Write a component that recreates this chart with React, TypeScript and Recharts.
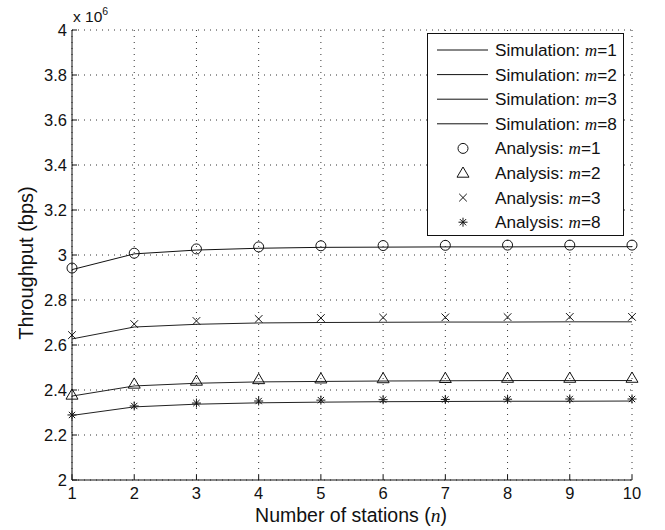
import { LineChart, Line, XAxis, YAxis, CartesianGrid, Label } from 'recharts';

const stations = [1, 2, 3, 4, 5, 6, 7, 8, 9, 10];

// throughput in units of 1e6 bps
const simM1 = [2.935, 3.005, 3.022, 3.030, 3.034, 3.035, 3.036, 3.036, 3.037, 3.037];
const simM2 = [2.373, 2.418, 2.430, 2.436, 2.438, 2.440, 2.441, 2.442, 2.442, 2.442];
const simM3 = [2.627, 2.680, 2.692, 2.698, 2.700, 2.701, 2.702, 2.702, 2.703, 2.703];
const simM8 = [2.287, 2.325, 2.337, 2.343, 2.346, 2.348, 2.349, 2.350, 2.350, 2.351];

const anaM1 = [2.942, 3.008, 3.027, 3.036, 3.041, 3.042, 3.043, 3.044, 3.044, 3.044];
const anaM2 = [2.378, 2.427, 2.440, 2.447, 2.450, 2.451, 2.452, 2.453, 2.453, 2.453];
const anaM3 = [2.644, 2.693, 2.707, 2.716, 2.720, 2.722, 2.723, 2.724, 2.725, 2.725];
const anaM8 = [2.289, 2.329, 2.342, 2.351, 2.355, 2.357, 2.358, 2.359, 2.360, 2.360];

const yTicks = [2, 2.2, 2.4, 2.6, 2.8, 3, 3.2, 3.4, 3.6, 3.8, 4];

const data = stations.map((n, i) => ({
  n,
  sim1: simM1[i],
  sim2: simM2[i],
  sim3: simM3[i],
  sim8: simM8[i],
  ana1: anaM1[i],
  ana2: anaM2[i],
  ana3: anaM3[i],
  ana8: anaM8[i],
}));

const FONT = '"Liberation Sans", Arial, Helvetica, sans-serif';
const SERIF = '"Liberation Serif", "DejaVu Serif", serif';
const INK = '#111';

type Kind = 'circle' | 'triangle' | 'cross' | 'star';

function Marker({ kind, cx, cy }: { kind: Kind; cx: number; cy: number }) {
  const p = { fill: 'none', stroke: INK, strokeWidth: 1 };
  if (kind === 'circle') return <circle cx={cx} cy={cy} r={5} {...p} />;
  if (kind === 'triangle') {
    const s = 6;
    return <path d={`M${cx},${cy - s} L${cx + s},${cy + s * 0.7} L${cx - s},${cy + s * 0.7} Z`} {...p} />;
  }
  if (kind === 'cross') {
    const s = 3.8;
    return <path d={`M${cx - s},${cy - s} L${cx + s},${cy + s} M${cx - s},${cy + s} L${cx + s},${cy - s}`} {...p} />;
  }
  const s = 4.5;
  const d = s * 0.7;
  return (
    <path
      d={`M${cx},${cy - s} L${cx},${cy + s} M${cx - s},${cy} L${cx + s},${cy} M${cx - d},${cy - d} L${cx + d},${cy + d} M${cx - d},${cy + d} L${cx + d},${cy - d}`}
      {...p}
    />
  );
}

const dotFor = (kind: Kind) => (props: any) => (
  <Marker key={`${kind}-${props.index}`} kind={kind} cx={props.cx} cy={props.cy} />
);

const legendRows: { label: string; m: string; kind: Kind | 'line' }[] = [
  { label: 'Simulation: ', m: '1', kind: 'line' },
  { label: 'Simulation: ', m: '2', kind: 'line' },
  { label: 'Simulation: ', m: '3', kind: 'line' },
  { label: 'Simulation: ', m: '8', kind: 'line' },
  { label: 'Analysis: ', m: '1', kind: 'circle' },
  { label: 'Analysis: ', m: '2', kind: 'triangle' },
  { label: 'Analysis: ', m: '3', kind: 'cross' },
  { label: 'Analysis: ', m: '8', kind: 'star' },
];

function LegendBox() {
  return (
    <svg width={198} height={204} style={{ display: 'block' }}>
      <rect x={0.5} y={0.5} width={196} height={202} fill="#fff" stroke={INK} strokeWidth={1} />
      {legendRows.map((r, i) => {
        const y = 17 + i * 24.6;
        return (
          <g key={i}>
            {r.kind === 'line' ? (
              <line x1={10} x2={61} y1={y} y2={y} stroke={INK} strokeWidth={1} />
            ) : (
              <Marker kind={r.kind} cx={36} cy={y} />
            )}
            <text x={68} y={y + 6} fontFamily={FONT} fontSize={17.2} fill={INK}>
              {r.label}
              <tspan fontFamily={SERIF} fontStyle="italic">m</tspan>
              {'=' + r.m}
            </text>
          </g>
        );
      })}
    </svg>
  );
}

export default function App() {
  return (
    <div style={{ position: 'fixed', left: 0, top: 0, width: 665, height: 530, background: '#fff' }}>
      <LineChart width={665} height={530} data={data} margin={{ top: 30, right: 33, bottom: 20, left: 32 }}>
        <CartesianGrid stroke="#333" strokeDasharray="1 5" />
        <XAxis
          dataKey="n"
          type="number"
          domain={[1, 10]}
          ticks={stations}
          height={30}
          tickSize={-5}
          tickMargin={12}
          axisLine={{ stroke: INK }}
          tickLine={{ stroke: INK }}
          tick={{ fill: INK, fontSize: 16.5, fontFamily: FONT }}
        >
          <Label
            content={() => (
              <text x={351} y={522} textAnchor="middle" fontFamily={FONT} fontSize={19.5} fill={INK}>
                Number of stations (<tspan fontFamily={SERIF} fontStyle="italic">n</tspan>)
              </text>
            )}
          />
        </XAxis>
        <XAxis
          xAxisId="top"
          orientation="top"
          dataKey="n"
          type="number"
          domain={[1, 10]}
          ticks={stations}
          height={0}
          tickSize={-5}
          tick={false}
          axisLine={{ stroke: INK }}
          tickLine={{ stroke: INK }}
        />
        <YAxis
          type="number"
          domain={[2, 4]}
          ticks={yTicks}
          width={40}
          tickSize={-5}
          tickMargin={10}
          tickFormatter={(v: number) => String(Math.round(v * 10) / 10)}
          axisLine={{ stroke: INK }}
          tickLine={{ stroke: INK }}
          tick={{ fill: INK, fontSize: 16.5, fontFamily: FONT }}
        >
          <Label
            content={() => (
              <text
                x={33}
                y={263}
                textAnchor="middle"
                transform="rotate(-90 33 263)"
                fontFamily={FONT}
                fontSize={20}
                fill={INK}
              >
                Throughput (bps)
              </text>
            )}
          />
        </YAxis>
        <YAxis
          yAxisId="right"
          orientation="right"
          type="number"
          domain={[2, 4]}
          ticks={yTicks}
          width={0}
          tickSize={-5}
          tick={false}
          axisLine={{ stroke: INK }}
          tickLine={{ stroke: INK }}
        />
        <Line dataKey="sim1" stroke={INK} strokeWidth={1} dot={false} isAnimationActive={false} />
        <Line dataKey="sim2" stroke="#222" strokeWidth={1} dot={false} isAnimationActive={false} />
        <Line dataKey="sim3" stroke="#222" strokeWidth={1} dot={false} isAnimationActive={false} />
        <Line dataKey="sim8" stroke="#222" strokeWidth={1} dot={false} isAnimationActive={false} />
        <Line dataKey="ana1" stroke="none" dot={dotFor('circle')} activeDot={false} isAnimationActive={false} />
        <Line dataKey="ana2" stroke="none" dot={dotFor('triangle')} activeDot={false} isAnimationActive={false} />
        <Line dataKey="ana3" stroke="none" dot={dotFor('cross')} activeDot={false} isAnimationActive={false} />
        <Line dataKey="ana8" stroke="none" dot={dotFor('star')} activeDot={false} isAnimationActive={false} />
      </LineChart>
      <div style={{ position: 'absolute', left: 427, top: 33 }}>
        <LegendBox />
      </div>
      <div
        style={{
          position: 'absolute',
          left: 73,
          top: 8,
          fontFamily: FONT,
          fontSize: 15.5,
          lineHeight: '18px',
          color: INK,
          whiteSpace: 'nowrap',
        }}
      >
        x 10<sup style={{ fontSize: 10.5, verticalAlign: 7, lineHeight: 0 }}>6</sup>
      </div>
    </div>
  );
}
